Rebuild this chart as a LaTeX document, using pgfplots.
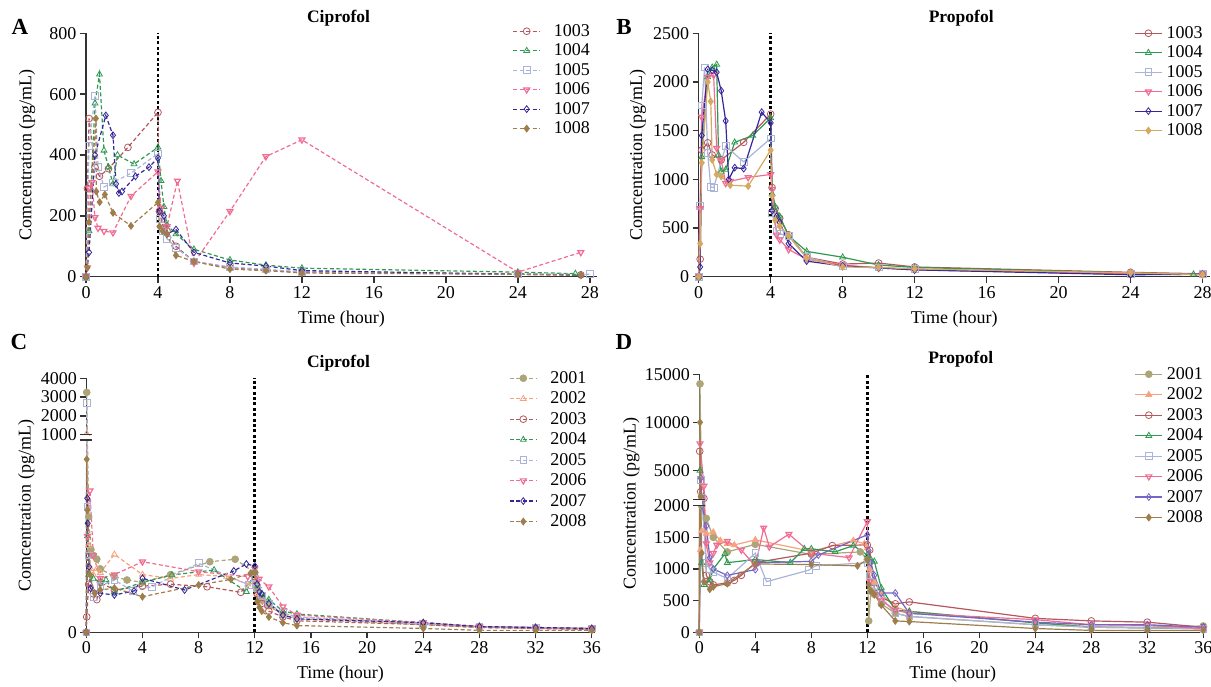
\documentclass[border=0pt]{standalone}
\usepackage{fontspec}
\setmainfont{Liberation Serif}
\usepackage{pgfplots}
\pgfplotsset{compat=1.18}

\definecolor{r3}{HTML}{B4585E}
\definecolor{g4}{HTML}{2E9A50}
\definecolor{b5}{HTML}{A9B4D8}
\definecolor{p6}{HTML}{F06C92}
\definecolor{n7}{HTML}{35279A}
\definecolor{t8}{HTML}{A07E4C}
\definecolor{t8b}{HTML}{D6A962}
\definecolor{o1}{HTML}{ADA57A}
\definecolor{s2}{HTML}{F6A27E}
\definecolor{v7}{HTML}{7466C6}
\definecolor{ax}{HTML}{333333}

\newcommand{\fs}{\fontsize{18}{20}\selectfont}

\tikzset{vline/.style={black, line width=2.6pt, dash pattern=on 3pt off 2.4pt}}

\pgfplotsset{
  legend image code/.code={\draw[mark repeat=2,mark phase=2,#1] plot coordinates {(0pt,0pt) (13.5pt,0pt) (27pt,0pt)};},
  pan/.style={
    scale only axis, axis lines*=left, clip=false,
    axis line style={-, line width=1.4pt, draw=ax},
    tick style={line width=1.4pt, draw=ax},
    tick align=outside, major tick length=6pt,
    tick label style={font=\fs},
    /pgf/number format/assume math mode=true,
    /pgf/number format/1000 sep={},
    scaled ticks=false,
    xlabel={Time (hour)}, ylabel={Comcentration (pg/mL)},
    every axis x label/.style={at={(0.5,0)}, yshift=-42pt, anchor=center, font=\fs},
    every axis y label/.style={at={(0,0.5)}, rotate=90, anchor=center, font=\fs},
    title style={at={(0.5,1)}, anchor=base, yshift=5pt, font=\fontsize{17.5}{19}\bfseries},
    legend cell align=left,
    legend style={at={(1,1)}, anchor=north east, draw=none, fill=none, font=\fs,
      inner sep=0pt, nodes={inner sep=1pt}},
  },
  dsh/.style={line width=1.2pt, dash pattern=on 4pt off 2.5pt, mark size=3.4pt, mark options={solid, line width=0.8pt}},
  sld/.style={line width=1.2pt, mark size=3.4pt, mark options={line width=0.8pt}},
}

\begin{document}
\begin{tikzpicture}
\useasboundingbox (0,0) rectangle (1211pt,686pt);

\node[font=\fontsize{23}{25}\bfseries, anchor=base] at (20pt,651pt) {A};
\node[font=\fontsize{23}{25}\bfseries, anchor=base] at (624pt,651pt) {B};
\node[font=\fontsize{23}{25}\bfseries, anchor=base] at (19pt,336pt) {C};
\node[font=\fontsize{23}{25}\bfseries, anchor=base] at (624pt,336pt) {D};

% ---------------- A : Ciprofol, group 1 ----------------
\begin{axis}[pan, at={(86pt,409.3pt)}, anchor=south west,
  width=511pt, height=243.4pt,
  xmin=0, xmax=28.4, ymin=0, ymax=800,
  xtick={0,4,...,28}, ytick={0,200,...,800},
  title={Ciprofol}, title style={xshift=-3pt},
  ylabel style={yshift=59pt},
  legend style={xshift=-6pt, yshift=10pt, row sep=4pt,
    /tikz/every odd column/.append style={column sep=12pt}},
]
\draw[vline] (axis cs:4,0) -- (axis cs:4,800);
\addplot[dsh, color=r3, mark=o] coordinates {(0,0) (0.08,290) (0.17,520) (0.5,360) (0.75,330) (1.25,355) (2.33,425) (4,540) (4.08,215) (4.25,170) (4.5,150) (5,100) (6,50) (8,30) (10,22) (12,15) (24,8) (27.5,6)};
\addplot[dsh, color=g4, mark=triangle] coordinates {(0,0) (0.17,150) (0.5,570) (0.75,665) (1,415) (1.25,360) (1.5,305) (1.75,400) (2.67,370) (4,425) (4.17,315) (4.33,230) (4.5,170) (5,140) (6,90) (8,55) (10,38) (12,28) (24,15) (27.2,10)};
\addplot[dsh, color=b5, mark=square] coordinates {(0,0) (0.17,430) (0.5,595) (0.67,360) (1,295) (1.5,310) (2.5,340) (4,405) (4.08,190) (4.25,150) (4.5,125) (5,95) (6,50) (8,32) (10,24) (12,16) (24,10) (28,8)};
\addplot[dsh, color=p6, mark=triangle, mark options={solid, rotate=180}] coordinates {(0,0) (0.08,30) (0.17,290) (0.33,310) (0.5,195) (0.67,160) (1,150) (1.5,145) (2.5,265) (4,345) (4.17,225) (4.5,165) (5.08,315) (6,45) (8,215) (10,395) (12,450) (24,15) (27.5,80)};
\addplot[dsh, color=n7, mark=diamond] coordinates {(0,0) (0.17,80) (0.5,400) (1.1,530) (1.5,465) (1.67,305) (1.83,275) (2,280) (2.75,330) (3.5,360) (4,390) (4.08,215) (4.33,200) (4.5,140) (5,155) (6,80) (8,45) (10,35) (12,20) (24,8) (27.5,5)};
\addplot[dsh, color=t8, mark=diamond*] coordinates {(0,0) (0.08,30) (0.17,180) (0.55,520) (0.57,280) (0.76,245) (1.05,270) (1.5,210) (2.5,167) (4,244) (4.08,165) (4.25,150) (4.5,140) (5,70) (6,50) (8,25) (10,20) (12,12) (24,8) (27.5,5)};
\legend{1003,1004,1005,1006,1007,1008}
\end{axis}

% ---------------- B : Propofol, group 1 ----------------
\begin{axis}[pan, at={(698.7pt,409.3pt)}, anchor=south west,
  width=511pt, height=243.4pt,
  xmin=0, xmax=28.4, ymin=0, ymax=2500,
  xtick={0,4,...,28}, ytick={0,500,...,2500},
  title={Propofol}, title style={xshift=7pt},
  ylabel style={yshift=61pt},
  legend style={xshift=-6pt, yshift=8pt, row sep=4pt,
    /tikz/every odd column/.append style={column sep=3pt}},
]
\draw[vline] (axis cs:4,0) -- (axis cs:4,2500);
\addplot[sld, color=r3, mark=o] coordinates {(0,0) (0.08,180) (0.17,1300) (0.5,1375) (0.75,1250) (1.25,1200) (2.5,1380) (4,1670) (4.08,915) (4.25,700) (4.5,600) (5,430) (6,200) (8,130) (10,140) (12,100) (24,45) (28,30)};
\addplot[sld, color=g4, mark=triangle] coordinates {(0,0) (0.17,1230) (0.5,2050) (0.75,2150) (1,2180) (1.1,1250) (1.25,1080) (1.5,1100) (2,1380) (3,1450) (4,1630) (4.08,850) (4.25,720) (4.5,620) (5,420) (6,260) (8,200) (10,120) (12,95) (24,40) (27.5,25)};
\addplot[sld, color=b5, mark=square] coordinates {(0,0) (0.08,730) (0.17,1760) (0.33,2150) (0.5,1270) (0.67,920) (0.83,915) (1.5,1340) (2.5,1180) (4,1420) (4.08,650) (4.33,470) (4.5,440) (5,420) (6,200) (8,110) (10,95) (12,80) (24,30) (28,25)};
\addplot[sld, color=p6, mark=triangle, mark options={rotate=180}] coordinates {(0,0) (0.08,700) (0.17,1640) (0.5,2050) (0.83,2070) (1,1320) (1.25,1200) (1.5,960) (1.75,980) (2.75,1020) (4,1050) (4.08,900) (4.33,430) (4.5,380) (5,280) (6,180) (8,120) (10,90) (12,70) (24,30) (28,20)};
\addplot[sld, color=n7, mark=diamond] coordinates {(0,0) (0.08,100) (0.17,1450) (0.5,2130) (0.75,2120) (1,2100) (1.25,1910) (1.5,1600) (1.67,1000) (2,1120) (2.5,1110) (3.5,1690) (4,1580) (4.08,680) (4.33,620) (4.5,560) (5,340) (6,160) (8,110) (10,90) (12,70) (24,20) (28,25)};
\addplot[sld, color=t8b, mark=diamond*] coordinates {(0,0) (0.08,340) (0.17,1170) (0.5,2000) (0.67,1800) (0.75,1200) (1,1050) (1.25,1030) (1.75,940) (2.75,930) (4,1300) (4.08,830) (4.25,580) (4.5,520) (5,420) (6,190) (8,100) (10,95) (12,80) (24,40) (28,20)};
\legend{1003,1004,1005,1006,1007,1008}
\end{axis}

% ---------------- C : Ciprofol, group 2 (broken axis) ----------------
\begin{axis}[pan, at={(86.3pt,53.7pt)}, anchor=south west,
  width=508.3pt, height=254pt,
  xmin=0, xmax=36.2, ymin=0, ymax=4000,
  y coord trafo/.code={\pgfmathparse{#1<1000 ? #1 : 1028+(#1-1000)*0.0976}},
  y coord inv trafo/.code={\pgfmathparse{#1<1000 ? #1 : 1000+(#1-1028)/0.0976}},
  xtick={0,4,...,36}, ytick={0,1000,2000,3000,4000},
  yticklabels={0,1000,2000,3000,4000},
  title={Ciprofol}, title style={xshift=-2pt},
  ylabel style={yshift=60pt},
  legend style={xshift=-7pt, yshift=8pt, row sep=5pt,
    /tikz/every odd column/.append style={column sep=12pt}},
  after end axis/.code={
    \fill[white] ([xshift=-3pt]rel axis cs:0,0.7571) rectangle ([xshift=3pt]rel axis cs:0,0.7783);
    \draw[ax, line width=1.4pt] ([xshift=-6pt]rel axis cs:0,0.7571) -- ([xshift=6pt]rel axis cs:0,0.7571);
    \draw[ax, line width=1.4pt] ([xshift=-6pt]rel axis cs:0,0.7783) -- ([xshift=6pt]rel axis cs:0,0.7783);
  },
]
\draw[vline] (axis cs:12,0) -- (axis cs:12,4000);
\addplot[dsh, color=o1, mark=*] coordinates {(0,0) (0.03,3250) (0.17,600) (0.33,430) (0.5,400) (0.75,380) (1,330) (2,290) (2.9,272) (4,260) (6,300) (8.8,367) (10.6,380) (12,310) (12.17,230) (12.5,170) (13,140) (14,90) (15,70) (24,40) (28,25) (32,20) (36,15)};
\addplot[dsh, color=s2, mark=triangle] coordinates {(0,0) (0.03,1050) (0.17,450) (0.33,330) (0.5,300) (0.75,330) (1,310) (2,405) (4,300) (6,280) (8,300) (10,290) (11.5,250) (12,260) (12.17,200) (12.5,160) (13,130) (14,100) (15,80) (24,45) (28,30) (32,25) (36,20)};
\addplot[dsh, color=r3, mark=o] coordinates {(0,0) (0.03,80) (0.17,250) (0.5,200) (0.75,170) (1,260) (2,220) (4,240) (6,250) (8.6,237) (11,208) (12,290) (12.17,200) (12.5,150) (13,110) (14,80) (15,60) (24,40) (28,25) (32,20) (36,15)};
\addplot[dsh, color=g4, mark=triangle] coordinates {(0,0) (0.08,500) (0.17,300) (0.5,280) (1,260) (1.4,272) (2,211) (4,260) (6.1,298) (9.1,324) (11.4,211) (12,320) (12.25,240) (12.5,200) (13,170) (14,110) (15,95) (24,50) (28,30) (32,25) (36,20)};
\addplot[dsh, color=b5, mark=square] coordinates {(0,0) (0.03,2700) (0.08,650) (0.17,400) (0.5,185) (1,240) (2,272) (3.3,215) (4.7,237) (8,359) (11.6,246) (12,280) (12.17,230) (12.5,190) (13,150) (14,100) (15,80) (24,45) (28,30) (32,25) (36,20)};
\addplot[dsh, color=p6, mark=triangle, mark options={solid, rotate=180}] coordinates {(0,0) (0.08,500) (0.26,736) (0.5,400) (1,280) (2,300) (4,367) (8,315) (11.5,290) (12,330) (12.3,277) (13,237) (14,133) (15,90) (24,50) (28,30) (32,22) (36,20)};
\addplot[dsh, color=n7, mark=diamond] coordinates {(0,0) (0.07,697) (0.1,567) (0.2,340) (0.3,229) (1,203) (2,194) (3.4,215) (4,281) (7,220) (10.5,319) (11.4,355) (12,345) (12.17,250) (12.33,210) (12.5,200) (13,150) (14,90) (15,70) (24,50) (28,30) (32,25) (36,20)};
\addplot[dsh, color=t8, mark=diamond*] coordinates {(0,0) (0.03,900) (0.08,636) (0.25,300) (0.6,203) (1,220) (2,230) (4,185) (8,246) (10.3,275) (11.7,307) (12,310) (12.17,160) (12.33,130) (12.5,110) (13,80) (14,50) (15,35) (24,20) (28,10) (32,10) (36,10)};
\legend{2001,2002,2003,2004,2005,2006,2007,2008}
\end{axis}

% ---------------- D : Propofol, group 2 (broken axis) ----------------
\begin{axis}[pan, at={(699.3pt,53.7pt)}, anchor=south west,
  width=506.8pt, height=258pt,
  xmin=0, xmax=36.2, ymin=0, ymax=15000,
  y coord trafo/.code={\pgfmathparse{#1<2001 ? #1 : 2100+(#1-2000)*0.152}},
  y coord inv trafo/.code={\pgfmathparse{#1<2001 ? #1 : 2000+(#1-2100)/0.152}},
  xtick={0,4,...,36}, ytick={0,500,1000,1500,2000,5000,10000,15000},
  yticklabels={0,500,1000,1500,2000,5000,10000,15000},
  title={Propofol}, title style={xshift=8pt},
  ylabel style={yshift=68pt},
  legend style={xshift=-2pt, yshift=8pt, row sep=5pt,
    /tikz/every odd column/.append style={column sep=3pt}},
  after end axis/.code={
    \fill[white] ([xshift=-3pt]rel axis cs:0,0.4907) rectangle ([xshift=3pt]rel axis cs:0,0.5152);
    \draw[ax, line width=1.4pt] ([xshift=-6pt]rel axis cs:0,0.4907) -- ([xshift=6pt]rel axis cs:0,0.4907);
    \draw[ax, line width=1.4pt] ([xshift=-6pt]rel axis cs:0,0.5152) -- ([xshift=6pt]rel axis cs:0,0.5152);
  },
]
\draw[vline] (axis cs:12,0) -- (axis cs:12,15000);
\addplot[sld, color=o1, mark=*] coordinates {(0,0) (0.05,14000) (0.17,2000) (0.5,1800) (1,1500) (2,1270) (4,1390) (8,1230) (11.5,1270) (12,1150) (12.1,180) (12.25,650) (12.5,600) (13,450) (14,300) (15,250) (24,120) (28,80) (32,80) (36,100)};
\addplot[sld, color=s2, mark=triangle*] coordinates {(0,0) (0.08,1300) (0.17,1600) (0.5,1560) (1,1580) (1.5,1450) (2,1400) (2.5,1380) (4,1460) (8,1280) (11,1450) (11.8,1400) (12,1330) (12.17,1000) (12.5,800) (13,600) (14,400) (15,330) (24,150) (28,90) (32,70) (36,50)};
\addplot[sld, color=r3, mark=o] coordinates {(0,0) (0.03,7000) (0.1,2800) (0.33,2100) (0.5,900) (0.75,800) (1,750) (2,780) (2.5,820) (3,900) (4,1100) (8,1250) (9.5,1370) (12,1380) (12.17,1300) (12.5,700) (13,550) (14,450) (15,480) (24,220) (28,180) (32,160) (36,80)};
\addplot[sld, color=g4, mark=triangle] coordinates {(0,0) (0.05,5000) (0.17,1100) (0.33,750) (0.75,820) (1,1000) (1.83,1240) (2,1100) (4,1150) (6.5,1100) (7.5,1320) (8,1320) (9.7,1270) (11,1370) (12,1220) (12.25,1150) (12.5,1120) (13,700) (14,350) (15,330) (24,150) (28,80) (32,70) (36,60)};
\addplot[sld, color=b5, mark=square] coordinates {(0,0) (0.1,4000) (0.17,2200) (0.5,1100) (0.75,1000) (1,950) (2,850) (4,1250) (4.8,800) (7.8,980) (8.3,1050) (12,1100) (12.17,900) (12.5,700) (13,550) (14,300) (15,250) (24,120) (28,80) (32,70) (36,60)};
\addplot[sld, color=p6, mark=triangle, mark options={rotate=180}] coordinates {(0,0) (0.05,7800) (0.33,3400) (0.5,1400) (0.75,1100) (1,1250) (1.25,1380) (2,1440) (3,1300) (4,1050) (4.6,1650) (5,1350) (6.4,1550) (8,1250) (10.7,1180) (12,1750) (12.17,800) (12.5,600) (13,500) (14,350) (15,300) (24,200) (28,120) (32,110) (36,60)};
\addplot[sld, color=v7, mark=diamond] coordinates {(0,0) (0.1,4200) (0.2,2000) (0.5,1680) (0.75,1180) (1,1000) (2,900) (4,990) (4.2,1100) (8,1120) (8.5,1220) (12,1540) (12.1,1290) (12.25,1100) (12.5,900) (13,620) (14,620) (15,300) (24,160) (28,120) (32,120) (36,80)};
\addplot[sld, color=t8, mark=diamond*] coordinates {(0,0) (0.05,10000) (0.1,2300) (0.17,1250) (0.33,800) (0.75,680) (1,720) (2,770) (4,1080) (8,1070) (11.3,1050) (12,1150) (12.1,750) (12.25,650) (12.5,600) (13,430) (14,180) (15,170) (24,60) (28,30) (32,30) (36,30)};
\legend{2001,2002,2003,2004,2005,2006,2007,2008}
\end{axis}
\end{tikzpicture}
\end{document}
